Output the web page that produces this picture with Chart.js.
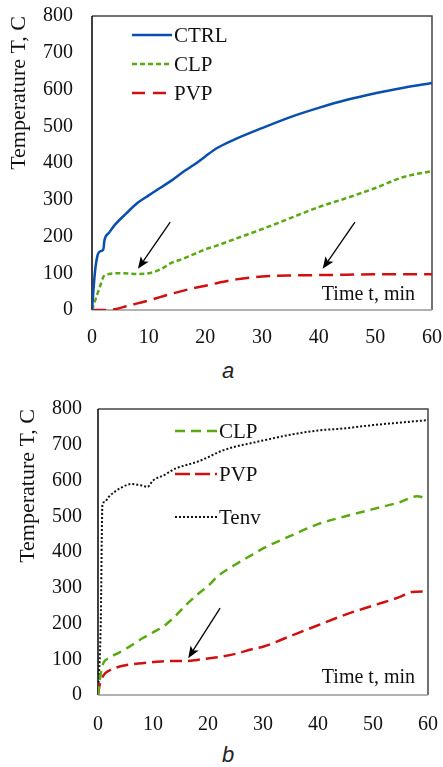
<!DOCTYPE html>
<html>
<head>
<meta charset="utf-8">
<script src="https://cdn.jsdelivr.net/npm/chart.js@4"></script>
<style>
  body { margin: 0; background: #fff; }
  .wrap { position: absolute; left: 0; width: 443px; }
  .cap { position: absolute; font: italic 22px "Liberation Sans", Arial, sans-serif; color: #222; }
</style>
</head>
<body>
<div class="wrap" style="top:0;height:350px"><canvas id="chartA" width="443" height="350"></canvas></div>
<div class="cap" style="left:222px;top:358px">a</div>
<div class="wrap" style="top:380px;height:350px"><canvas id="chartB" width="443" height="350"></canvas></div>
<div class="cap" style="left:222px;top:742px">b</div>
<script>
// chart a
const ctrlT = [0, 0.5, 1, 1.5, 2, 2.2, 3, 4, 6, 8, 10, 12, 14, 16, 18, 20, 22, 25, 30, 35, 40, 45, 50, 55, 60];
const ctrlV = [0, 100, 150, 160, 165, 190, 210, 231, 262, 291, 312, 332, 352, 375, 395, 418, 440, 463, 495, 525, 550, 572, 590, 605, 618];
const clpAT = [0, 1, 1.5, 2, 3, 5, 8, 10, 12, 14, 16, 18, 20, 22, 25, 30, 35, 40, 45, 50, 55, 60];
const clpAV = [0, 46, 68, 90, 98, 100, 98, 100, 110, 128, 139, 152, 165, 175, 192, 220, 250, 280, 305, 332, 362, 378];
const pvpAT = [0, 2, 4, 6, 8, 10, 12, 14, 16, 18, 20, 22, 25, 28, 30, 35, 40, 45, 50, 55, 60];
const pvpAV = [0, 0, 2, 10, 18, 26, 35, 44, 52, 60, 66, 73, 82, 88, 91, 94, 95, 96, 97, 97, 97];
const arrowsA = [[13.8, 239, 8.1, 112], [46.4, 239, 40.7, 112]];

// chart b
const clpBT = [0, 0.5, 1, 2, 4, 6, 8, 10, 12, 14, 16, 18, 20, 22, 25, 28, 30, 35, 40, 45, 50, 55, 58, 60];
const clpBV = [0, 60, 90, 103, 120, 138, 158, 175, 193, 220, 252, 280, 305, 335, 365, 392, 410, 445, 478, 500, 520, 540, 556, 548];
const pvpBT = [0, 0.3, 1, 2, 3, 5, 8, 10, 13, 16, 18, 20, 22, 25, 28, 30, 35, 40, 45, 50, 55, 57, 60];
const pvpBV = [0, 28, 55, 68, 75, 83, 89, 92, 95, 95, 98, 102, 106, 115, 128, 135, 165, 195, 225, 250, 275, 288, 290];
const tenvT = [0, 0.5, 0.8, 1.2, 2, 3, 4, 6, 8, 9, 10, 12, 14, 16, 18, 20, 22, 25, 28, 30, 35, 40, 45, 50, 55, 60];
const tenvV = [0, 200, 530, 540, 555, 568, 578, 590, 586, 582, 600, 615, 633, 643, 652, 665, 680, 695, 705, 712, 728, 740, 746, 755, 762, 769];
const arrowsB = [[22.2, 243, 16.4, 103]];

const xTicks = [0, 10, 20, 30, 40, 50, 60];
const yTicks = [0, 100, 200, 300, 400, 500, 600, 700, 800];

const serif = '"Liberation Serif", "Times New Roman", serif';
const pts = (t, v) => t.map((x, i) => ({ x: x, y: v[i] }));

const extras = {
  id: 'extras',
  beforeDatasetsDraw(chart, args, o) {
    const a = chart.chartArea, c = chart.ctx;
    c.save();
    c.lineWidth = 1.5;
    c.strokeStyle = '#444';
    c.beginPath(); c.moveTo(a.left, a.top); c.lineTo(a.right, a.top); c.lineTo(a.right, a.bottom); c.stroke();
    c.strokeStyle = '#999';
    c.beginPath(); c.moveTo(a.left, a.bottom); c.lineTo(a.right, a.bottom); c.stroke();
    c.strokeStyle = '#000';
    c.beginPath(); c.moveTo(a.left, a.top); c.lineTo(a.left, a.bottom); c.stroke();
    c.restore();
  },
  afterDraw(chart, args, o) {
    const c = chart.ctx, xs = chart.scales.x, ys = chart.scales.y;
    c.save();
    // legend
    chart.data.datasets.forEach((d, i) => {
      const y = o.legY + i * o.legGap;
      c.strokeStyle = d.borderColor;
      c.lineWidth = d.borderWidth;
      c.setLineDash(d.legendDash || d.borderDash || []);
      c.beginPath(); c.moveTo(o.legX, y); c.lineTo(o.legX + o.legLen, y); c.stroke();
      c.setLineDash([]);
      c.fillStyle = '#111';
      c.font = '21px ' + serif;
      c.textBaseline = 'middle';
      c.textAlign = 'left';
      c.fillText(d.label, o.legX + o.legLen + 2, y + 1);
    });
    // axis label inside plot
    c.font = '20px ' + serif;
    c.textAlign = 'right';
    c.textBaseline = 'middle';
    c.fillStyle = '#111';
    c.fillText('Time t, min', o.timeX, o.timeY);
    // arrows
    c.strokeStyle = '#000';
    c.fillStyle = '#000';
    c.lineWidth = 1.3;
    o.arrows.forEach(r => {
      const x0 = xs.getPixelForValue(r[0]), y0 = ys.getPixelForValue(r[1]);
      const x1 = xs.getPixelForValue(r[2]), y1 = ys.getPixelForValue(r[3]);
      const ang = Math.atan2(y1 - y0, x1 - x0), L = 13, W = 0.38;
      c.beginPath(); c.moveTo(x0, y0); c.lineTo(x1 - Math.cos(ang) * 8, y1 - Math.sin(ang) * 8); c.stroke();
      c.beginPath();
      c.moveTo(x1, y1);
      c.lineTo(x1 - L * Math.cos(ang - W), y1 - L * Math.sin(ang - W));
      c.lineTo(x1 - L * 0.7 * Math.cos(ang), y1 - L * 0.7 * Math.sin(ang));
      c.lineTo(x1 - L * Math.cos(ang + W), y1 - L * Math.sin(ang + W));
      c.closePath(); c.fill();
    });
    c.restore();
  }
};

function makeOptions(pad, yWidth, xHeight, tickPadX, tickPadY, titlePad, legend) {
  return {
    responsive: false,
    animation: false,
    layout: { padding: pad },
    elements: { point: { radius: 0 }, line: { tension: 0.3, cubicInterpolationMode: 'monotone', borderCapStyle: 'butt' } },
    plugins: { legend: { display: false }, tooltip: { enabled: false }, extras: legend },
    scales: {
      x: {
        type: 'linear', min: 0, max: 60,
        afterBuildTicks: s => { s.ticks = xTicks.map(v => ({ value: v })); },
        afterFit: s => { s.height = xHeight; s.paddingLeft = 0; s.paddingRight = 0; },
        grid: { display: false, drawTicks: false },
        border: { display: false },
        ticks: { color: '#111', font: { family: serif, size: 20 }, padding: tickPadX, maxRotation: 0 }
      },
      y: {
        type: 'linear', min: 0, max: 800,
        afterBuildTicks: s => { s.ticks = yTicks.map(v => ({ value: v })); },
        afterFit: s => { s.width = yWidth; s.paddingTop = 0; s.paddingBottom = 0; },
        grid: { display: false, drawTicks: false },
        border: { display: false },
        ticks: { color: '#111', font: { family: serif, size: 20 }, padding: tickPadY },
        title: { display: true, text: 'Temperature T, C', align: 'end', color: '#111', font: { family: serif, size: 22 }, padding: { top: titlePad, bottom: 0 } }
      }
    }
  };
}

new Chart(document.getElementById('chartA'), {
  type: 'line',
  data: {
    datasets: [
      { label: 'CTRL', data: pts(ctrlT, ctrlV), borderColor: '#0a4fb0', borderWidth: 2.5 },
      { label: 'CLP', data: pts(clpAT, clpAV), borderColor: '#5aa812', borderWidth: 2.5, borderDash: [5, 3] },
      { label: 'PVP', data: pts(pvpAT, pvpAV), borderColor: '#d01010', borderWidth: 2.5, borderDash: [14, 7], legendDash: [13, 8] }
    ]
  },
  options: makeOptions({ top: 16, right: 11, left: 0, bottom: 0 }, 92, 40, 16, 19, 6,
    { legX: 132, legY: 35, legGap: 29, legLen: 40, timeX: 415, timeY: 295, arrows: arrowsA }),
  plugins: [extras]
});

new Chart(document.getElementById('chartB'), {
  type: 'line',
  data: {
    datasets: [
      { label: 'CLP', data: pts(clpBT, clpBV), borderColor: '#5aa812', borderWidth: 2.5, borderDash: [9, 6], legendDash: [10, 6] },
      { label: 'PVP', data: pts(pvpBT, pvpBV), borderColor: '#d01010', borderWidth: 2.5, borderDash: [12, 6], legendDash: [15, 5] },
      { label: 'Tenv', data: pts(tenvT, tenvV), borderColor: '#111', borderWidth: 2, borderDash: [2, 2] }
    ]
  },
  options: makeOptions({ top: 29, right: 15, left: 0, bottom: 0 }, 98, 35, 18, 16, 15,
    { legX: 175, legY: 51, legGap: 43, legLen: 42, timeX: 415, timeY: 298, arrows: arrowsB }),
  plugins: [extras]
});
</script>
</body>
</html>
